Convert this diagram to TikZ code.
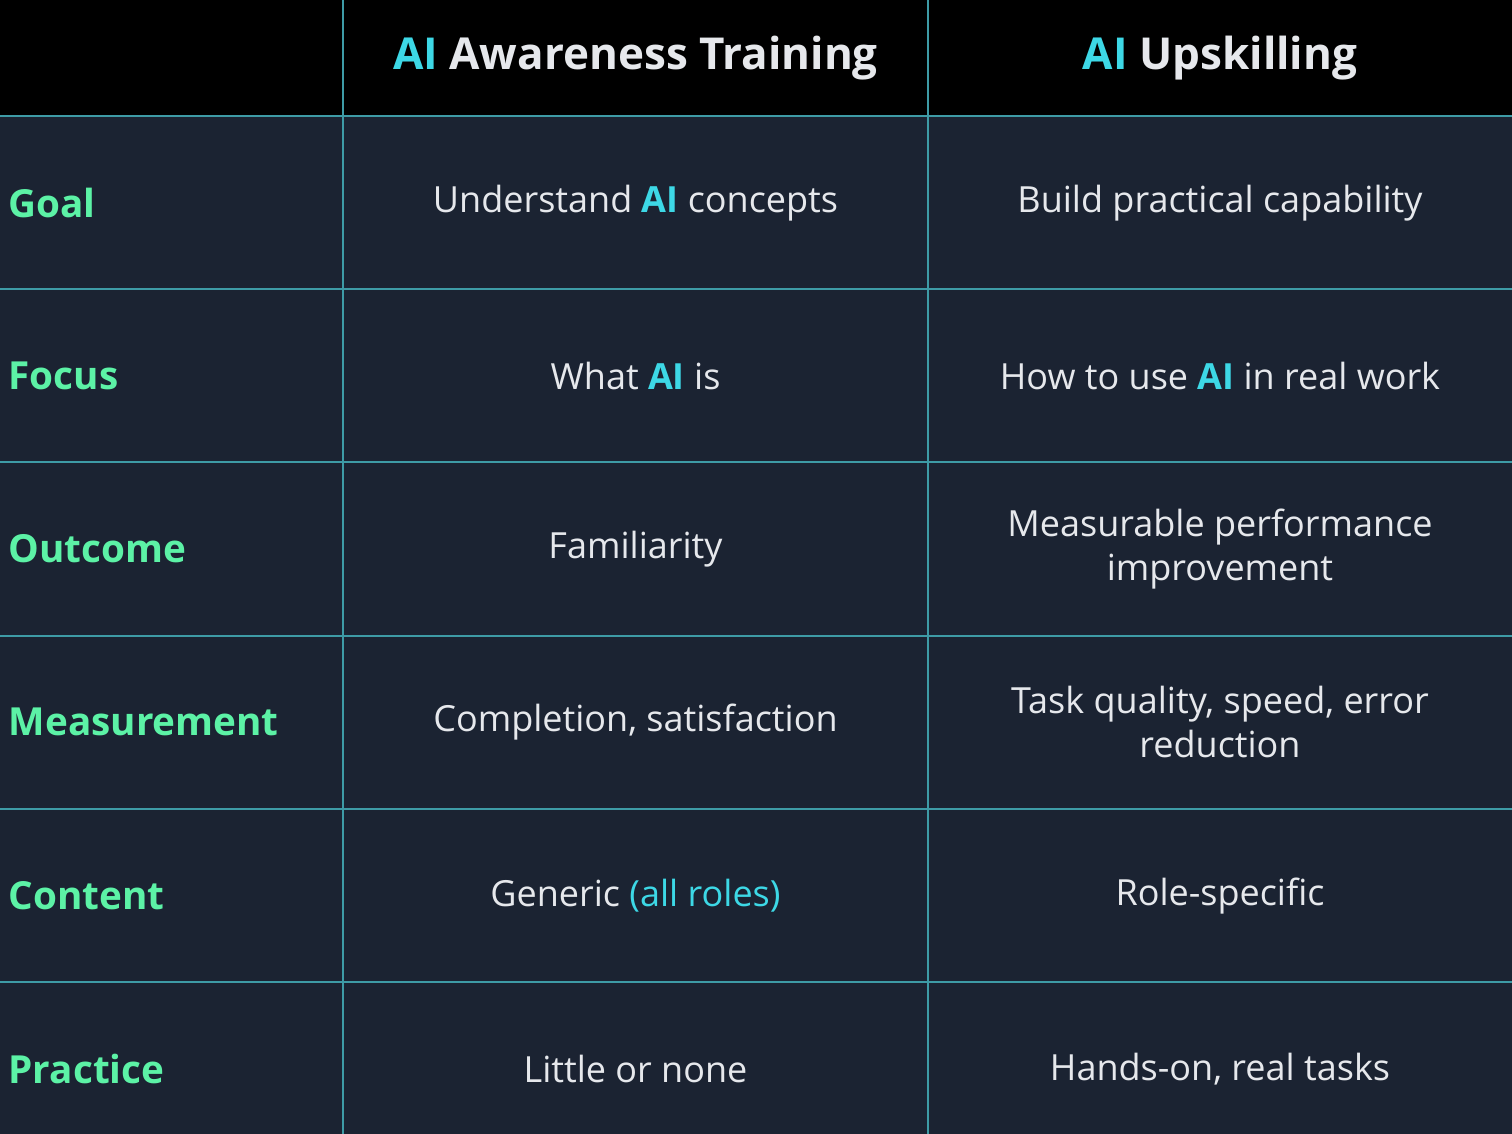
\documentclass[tikz,border=0pt]{standalone}
\usepackage{fontspec}
\setmainfont{Open Sans}
\definecolor{bodybg}{HTML}{1B2332}
\definecolor{gridc}{HTML}{3E9BA6}
\definecolor{aicyan}{HTML}{3DD8E6}
\definecolor{lblgreen}{HTML}{5CF2A6}
\definecolor{txt}{HTML}{E6E8EC}
\newcommand{\ai}{\textbf{\textcolor{aicyan}{AI}}}
\begin{document}
\begin{tikzpicture}[x=0.75pt,y=-0.75pt,
  hdr/.style={font=\fontsize{33}{40}\selectfont\bfseries,text=txt},
  cell/.style={font=\fontsize{27}{33}\selectfont,text=txt,align=center},
  lbl/.style={font=\fontsize{29}{35}\selectfont\bfseries,text=lblgreen,anchor=west}]
\useasboundingbox (0,0) rectangle (1512,1134);
\fill[bodybg] (0,0) rectangle (1512,1134);
\fill[black] (0,0) rectangle (1512,116);
\draw[gridc,line width=0.9pt] (343,0) -- (343,1134) (928,0) -- (928,1134);
\foreach \y in {116,289,462,636,809,982} \draw[gridc,line width=0.9pt] (0,\y) -- (1512,\y);
\node[hdr] (h1) at (635.5,58) {\textcolor{aicyan}{AI} Awareness Training};
\node[hdr] (h2) at (1220,58) {\textcolor{aicyan}{AI} Upskilling};
\node[lbl] (l1) at (4,203) {Goal};
\node[lbl] (l2) at (4,376) {Focus};
\node[lbl] (l3) at (4,549) {Outcome};
\node[lbl] (l4) at (4,722) {Measurement};
\node[lbl] (l5) at (4,896) {Content};
\node[lbl] (l6) at (4,1069) {Practice};
\node[cell] (a1) at (635.5,203) {Understand \ai{} concepts};
\node[cell] (a2) at (635.5,376) {What \ai{} is};
\node[cell] (a3) at (635.5,549) {Familiarity};
\node[cell] (a4) at (635.5,722) {Completion, satisfaction};
\node[cell] (a5) at (635.5,896) {Generic \textcolor{aicyan}{(all roles)}};
\node[cell] (a6) at (635.5,1069) {Little or none};
\node[cell] (b1) at (1220,203) {Build practical capability};
\node[cell] (b2) at (1220,376) {How to use \ai{} in real work};
\node[cell] (b3) at (1220,549) {Measurable performance\\improvement};
\node[cell] (b4) at (1220,722) {Task quality, speed, error\\reduction};
\node[cell] (b5) at (1220,896) {Role-specific};
\node[cell] (b6) at (1220,1069) {Hands-on, real tasks};
\end{tikzpicture}
\end{document}
